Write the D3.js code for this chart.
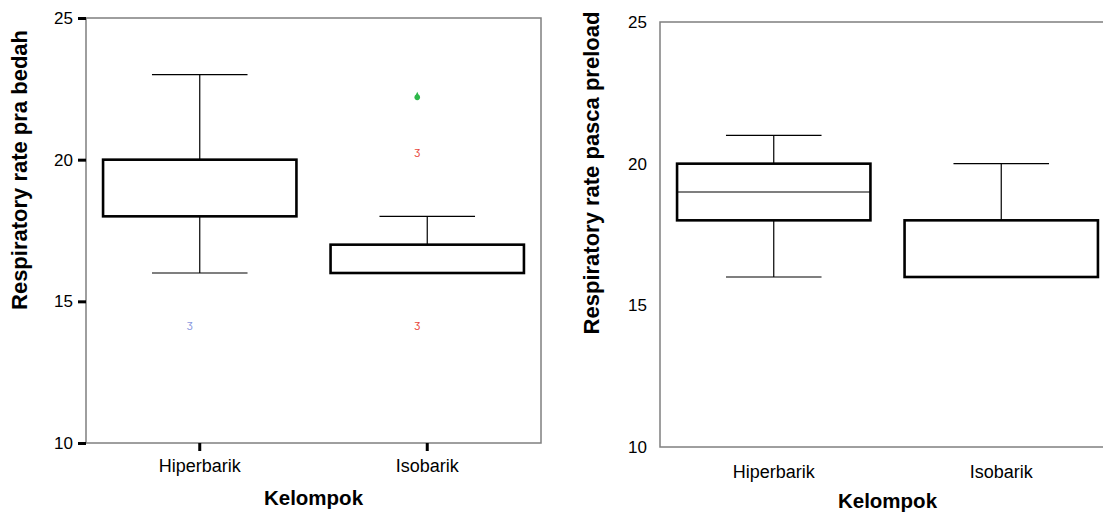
<!DOCTYPE html>
<html>
<head>
<meta charset="utf-8">
<script src="https://cdn.jsdelivr.net/npm/d3@7"></script>
<style>
  html, body { margin: 0; padding: 0; background: #fff; }
  svg { display: block; font-family: "Liberation Sans", Arial, sans-serif; }
</style>
</head>
<body>
<svg id="chart" width="1103" height="513"></svg>
<script>
// Groups and y-axis ticks
const categories = ["Hiperbarik", "Isobarik"];
const yTicks = [10, 15, 20, 25];

// Respiratory rate before surgery: box-plot summaries per group
const praMin    = [16, 16];
const praQ1     = [18, 16];
const praMedian = [20, 16];
const praQ3     = [20, 17];
const praMax    = [23, 18];
// Outliers: [group index, value, kind]
const praOutliers = [
  [0, 14.2, "outlier"],
  [1, 22.2, "extreme"],
  [1, 20.3, "outlier"],
  [1, 14.2, "outlier"]
];

// Respiratory rate after preload
const pascaMin    = [16, 16];
const pascaQ1     = [18, 16];
const pascaMedian = [19, 16];
const pascaQ3     = [20, 18];
const pascaMax    = [21, 20];
const pascaOutliers = [];

const svg = d3.select("#chart");

function boxPanel(opt) {
  const g = svg.append("g");
  const x = d3.scaleBand().domain(categories).range([opt.left, opt.right]).padding(0);
  const y = d3.scaleLinear().domain([10, 25]).range([opt.bottom, opt.top]);
  const half = x.bandwidth() * 0.425;
  const capHalf = x.bandwidth() * 0.21;

  // plot frame
  g.append("rect")
    .attr("x", opt.left).attr("y", opt.top)
    .attr("width", opt.right - opt.left).attr("height", opt.bottom - opt.top)
    .attr("fill", "none").attr("stroke", "#7f7f7f").attr("stroke-width", 1.5);

  // y axis tick labels (and optional tick marks)
  const yAxis = d3.axisLeft(y).tickValues(yTicks).tickFormat(d3.format("d"))
    .tickSize(opt.ticks ? 8 : 0).tickPadding(opt.ticks ? 5 : 13);
  const ya = g.append("g").attr("transform", `translate(${opt.left},0)`).call(yAxis);
  ya.select(".domain").remove();
  ya.selectAll("line").attr("stroke", "#000").attr("stroke-width", 3);
  ya.selectAll("text").attr("font-size", 17).attr("fill", "#000")
    .attr("font-family", "Liberation Sans, Arial, sans-serif");

  // x axis category labels
  const xAxis = d3.axisBottom(x).tickSize(opt.ticks ? 8 : 0).tickPadding(opt.xPad);
  const xa = g.append("g").attr("transform", `translate(0,${opt.bottom})`).call(xAxis);
  xa.select(".domain").remove();
  xa.selectAll("line").attr("stroke", "#000").attr("stroke-width", 3);
  xa.selectAll("text").attr("font-size", 18).attr("fill", "#000")
    .attr("font-family", "Liberation Sans, Arial, sans-serif");

  // whiskers, caps, boxes, medians
  categories.forEach((c, i) => {
    const cx = x(c) + x.bandwidth() / 2;
    const s = opt.stats;
    const wg = g.append("g").attr("stroke", "#000").attr("stroke-width", 1.2);
    if (s.max[i] > s.q3[i]) {
      wg.append("line").attr("x1", cx).attr("x2", cx).attr("y1", y(s.q3[i])).attr("y2", y(s.max[i]));
      wg.append("line").attr("x1", cx - capHalf).attr("x2", cx + capHalf).attr("y1", y(s.max[i])).attr("y2", y(s.max[i]));
    }
    if (s.min[i] < s.q1[i]) {
      wg.append("line").attr("x1", cx).attr("x2", cx).attr("y1", y(s.q1[i])).attr("y2", y(s.min[i]));
      wg.append("line").attr("x1", cx - capHalf).attr("x2", cx + capHalf).attr("y1", y(s.min[i])).attr("y2", y(s.min[i]));
    }
    g.append("line")
      .attr("x1", cx - half).attr("x2", cx + half)
      .attr("y1", y(s.median[i])).attr("y2", y(s.median[i]))
      .attr("stroke", "#555").attr("stroke-width", 1.5);
    g.append("rect")
      .attr("x", cx - half).attr("y", y(s.q3[i]))
      .attr("width", half * 2).attr("height", y(s.q1[i]) - y(s.q3[i]))
      .attr("fill", "none").attr("stroke", "#000").attr("stroke-width", 2.6);
  });

  // outlier markers
  opt.outliers.forEach(([gi, v, kind]) => {
    const cx = x(categories[gi]) + x.bandwidth() / 2 - 10;
    if (kind === "extreme") {
      g.append("circle").attr("cx", cx).attr("cy", y(v)).attr("r", 2.8).attr("fill", "#2eb84a");
      g.append("path").attr("d", `M${cx - 1.6},${y(v) - 2} L${cx},${y(v) - 5.5} L${cx + 1.6},${y(v) - 2}Z`).attr("fill", "#2eb84a");
    } else {
      g.append("text").attr("x", cx).attr("y", y(v) + 4)
        .attr("text-anchor", "middle").attr("font-size", 11)
        .attr("fill", gi === 0 ? "#8a98e0" : "#e8453a")
        .text("ӡ");
    }
  });

  // axis titles
  g.append("text")
    .attr("transform", `translate(${opt.yTitleX},${opt.yTitleY}) rotate(-90)`)
    .attr("text-anchor", "middle").attr("font-size", 22).attr("font-weight", "bold")
    .text(opt.yTitle);
  g.append("text")
    .attr("x", (opt.left + opt.right) / 2).attr("y", opt.xTitleY)
    .attr("text-anchor", "middle").attr("font-size", 20.5).attr("font-weight", "bold")
    .text("Kelompok");
}

boxPanel({
  left: 86, right: 541, top: 18, bottom: 443, ticks: true, xPad: 8,
  stats: { min: praMin, q1: praQ1, median: praMedian, q3: praQ3, max: praMax },
  outliers: praOutliers,
  yTitle: "Respiratory rate pra bedah", yTitleX: 27, yTitleY: 170, xTitleY: 505
});

boxPanel({
  left: 660, right: 1115, top: 22, bottom: 447, ticks: false, xPad: 18,
  stats: { min: pascaMin, q1: pascaQ1, median: pascaMedian, q3: pascaQ3, max: pascaMax },
  outliers: pascaOutliers,
  yTitle: "Respiratory rate pasca preload", yTitleX: 599, yTitleY: 173, xTitleY: 508
});
</script>
</body>
</html>
